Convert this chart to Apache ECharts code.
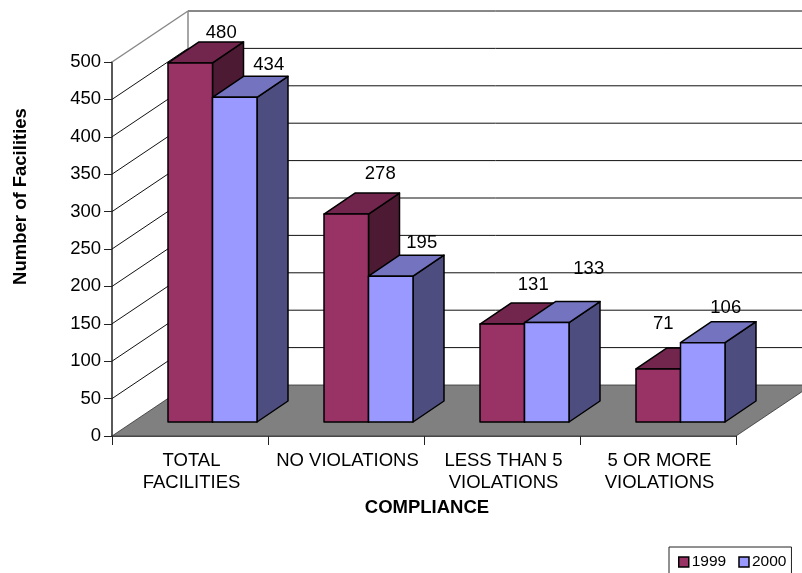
<!DOCTYPE html>
<html>
<head>
<meta charset="utf-8">
<style>html,body{margin:0;padding:0;background:#fff}#c{width:802px;height:573px}</style>
<script src="https://cdn.jsdelivr.net/npm/echarts@6/dist/echarts.min.js"></script>
</head>
<body>
<div id="c"></div>
<script>
const categories = ['TOTAL\nFACILITIES', 'NO VIOLATIONS', 'LESS THAN 5\nVIOLATIONS', '5 OR MORE\nVIOLATIONS'];
const values1999 = [480, 278, 131, 71];
const values2000 = [434, 195, 133, 106];
const yTicks = [0, 50, 100, 150, 200, 250, 300, 350, 400, 450, 500];

// Oblique projection styling
const WALL = [76, -51], BAR_DEPTH = [31, -21], BAR_DROP = -14, BAR_W = 44.5;
const FONT = 'Liberation Sans, Arial, sans-serif';
const TEXT_SIZE = 18.5;
const nudge1999 = [[31, -30], [34, -40], [31, -39], [5, -45]];
const nudge2000 = [[34, -32], [31, -33], [42, -54], [23, -35]];

function poly(points, fill, stroke, lw) {
  return { type: 'polygon', shape: { points }, style: { fill, stroke, lineWidth: lw, lineJoin: 'round' } };
}
function line(a, b, color, w) {
  return { type: 'line', shape: { x1: a[0], y1: a[1], x2: b[0], y2: b[1] }, style: { stroke: color, lineWidth: w } };
}
function barRender(sideOffset, colors, nudges) {
  return function (params, api) {
    const i = api.value(0), v = api.value(1);
    const base = api.coord([i, 0]), top = api.coord([i, v]);
    const xL = base[0] + sideOffset, xR = xL + BAR_W;
    const yB = base[1] + BAR_DROP, yT = top[1] + BAR_DROP;
    const dx = BAR_DEPTH[0], dy = BAR_DEPTH[1];
    const n = nudges[i];
    return {
      type: 'group',
      children: [
        poly([[xR, yT], [xR + dx, yT + dy], [xR + dx, yB + dy], [xR, yB]], colors[2], '#000', 1.5),
        poly([[xL, yT], [xL + dx, yT + dy], [xR + dx, yT + dy], [xR, yT]], colors[1], '#000', 1.5),
        poly([[xL, yT], [xR, yT], [xR, yB], [xL, yB]], colors[0], '#000', 1.5),
        { type: 'text', style: { text: String(v), x: (xL + xR) / 2 + n[0], y: yT + n[1], align: 'center', verticalAlign: 'middle', font: TEXT_SIZE + 'px ' + FONT, fill: '#000' } }
      ]
    };
  };
}

const chart = echarts.init(document.getElementById('c'), null, { renderer: 'canvas' });
chart.setOption({
  animation: false,
  backgroundColor: '#fff',
  grid: { left: 112, right: 66, top: 62, height: 374, containLabel: false },
  legend: {
    data: ['1999', '2000'], left: 669, top: 547, icon: 'rect',
    itemWidth: 10, itemHeight: 10, itemGap: 12,
    padding: [7, 5, 5, 9], borderColor: '#222', borderWidth: 1,
    itemStyle: { borderColor: '#000', borderWidth: 1.5 },
    textStyle: { fontFamily: FONT, fontSize: 15.5, color: '#000', padding: [0, 0, 0, -2] }
  },
  xAxis: {
    type: 'category', data: categories,
    name: 'COMPLIANCE', nameLocation: 'middle', nameGap: 62,
    nameTextStyle: { fontFamily: FONT, fontSize: 18.5, fontWeight: 'bold', color: '#000', padding: [0, 0, 0, 6] },
    axisLine: { show: true, lineStyle: { color: '#222', width: 1.5 } },
    axisTick: { show: true, length: 9, lineStyle: { color: '#222', width: 1 } },
    axisLabel: { interval: 0, fontFamily: FONT, fontSize: TEXT_SIZE, color: '#000', lineHeight: 22, margin: 14, padding: [0, 0, 0, 3] }
  },
  yAxis: {
    type: 'value', min: 0, max: 500, interval: 50, position: 'left',
    name: 'Number of Facilities', nameLocation: 'middle', nameGap: 82, nameRotate: 90,
    nameTextStyle: { fontFamily: FONT, fontSize: 18.5, fontWeight: 'bold', color: '#000', padding: [0, 0, 0, 105] },
    axisLine: { show: true, lineStyle: { color: '#222', width: 1.5 } },
    axisTick: { show: true, length: 8, lineStyle: { color: '#222', width: 1 } },
    splitLine: { show: false },
    axisLabel: { fontFamily: FONT, fontSize: TEXT_SIZE, color: '#000', margin: 11 }
  },
  series: [
    {
      type: 'custom', name: 'walls', coordinateSystem: 'cartesian2d', z: 1, silent: true,
      encode: { y: 0 },
      data: yTicks.map(v => [v]),
      renderItem(params, api) {
        const v = api.value(0), cs = params.coordSys;
        const y = api.coord([0, v])[1];
        const x0 = cs.x, x1 = cs.x + cs.width;
        const back = [x0 + WALL[0], y + WALL[1]];
        const end = [x1 + WALL[0], y + WALL[1]];
        if (v === 0) {
          return poly([[x0, y], back, end, [x1, y]], '#808080', '#333', 0.8);
        }
        const diag = v === 500 ? '#888' : '#111';
        const children = [line([x0, y], back, diag, v === 500 ? 1.5 : 1), line(back, end, '#111', 1)];
        if (v === 500) {
          const y0 = api.coord([0, 0])[1];
          children.push(line(back, [back[0], y0 + WALL[1]], '#888', 1.5));
        }
        return { type: 'group', children };
      }
    },
    {
      type: 'custom', name: '1999', coordinateSystem: 'cartesian2d', z: 3,
      itemStyle: { color: '#993366' },
      encode: { x: 0, y: 1 },
      data: values1999.map((v, i) => [i, v]),
      renderItem: barRender(-22, ['#993366', '#73264d', '#4d1a33'], nudge1999)
    },
    {
      type: 'custom', name: '2000', coordinateSystem: 'cartesian2d', z: 3,
      itemStyle: { color: '#9999ff' },
      encode: { x: 0, y: 1 },
      data: values2000.map((v, i) => [i, v]),
      renderItem: barRender(22.5, ['#9999ff', '#7373bf', '#4d4d80'], nudge2000)
    }
  ]
});
</script>
</body>
</html>
